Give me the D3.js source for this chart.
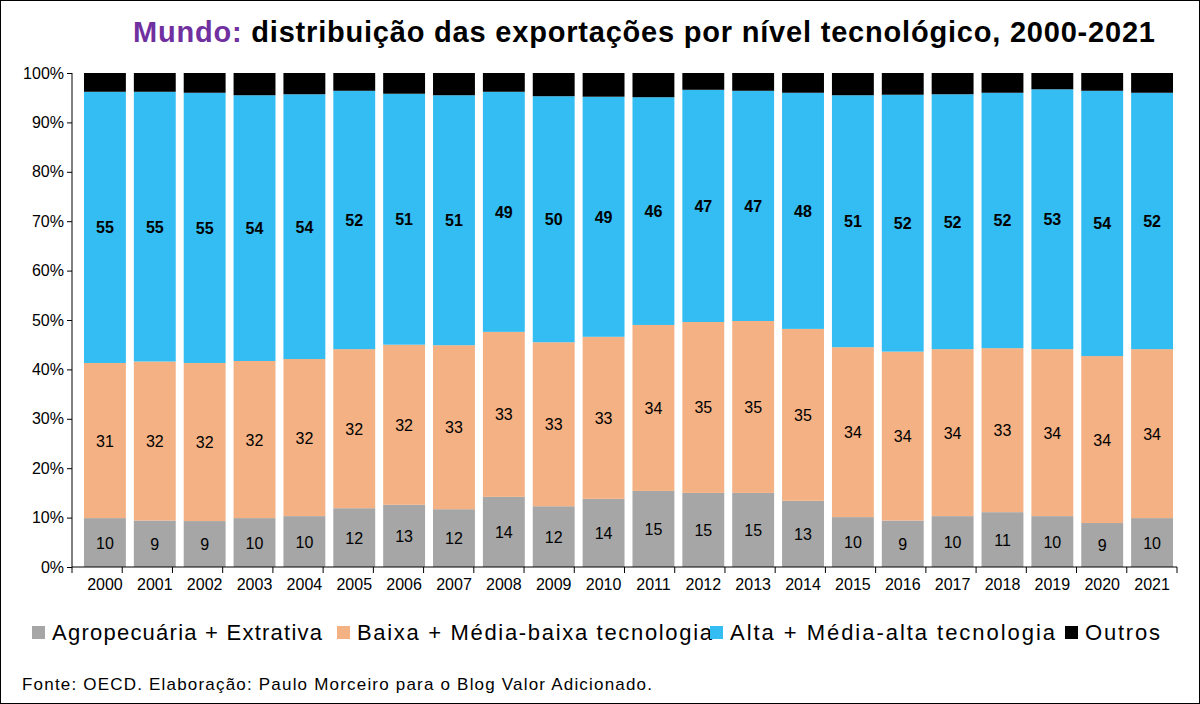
<!DOCTYPE html>
<html><head><meta charset="utf-8">
<script src="https://cdn.jsdelivr.net/npm/d3@7"></script>
<style>body{margin:0;background:#fff}svg{font-family:Arial,"Liberation Sans",sans-serif}</style>
</head><body>
<svg id="chart" width="1200" height="704"></svg>
<script>
var years = ["2000","2001","2002","2003","2004","2005","2006","2007","2008","2009","2010","2011","2012","2013","2014","2015","2016","2017","2018","2019","2020","2021"]
var agro  = [9.9,9.4,9.3,9.9,10.3,11.9,12.6,11.7,14.2,12.3,13.8,15.4,15.0,15.0,13.4,10.1,9.4,10.3,11.1,10.3,8.9,9.9]
var baixa = [31.4,32.2,32.0,31.8,31.8,32.2,32.4,33.2,33.4,33.2,32.8,33.6,34.6,34.8,34.8,34.4,34.2,33.8,33.2,33.8,33.8,34.2]
var alta  = [54.9,54.6,54.7,53.8,53.6,52.3,50.8,50.6,48.6,49.8,48.6,46.1,47.0,46.6,47.8,51.0,52.0,51.6,51.7,52.6,53.7,51.9]
var yTicks = [0,10,20,30,40,50,60,70,80,90,100]
var seriesNames = ["Agropecuária + Extrativa","Baixa + Média-baixa tecnologia","Alta + Média-alta tecnologia","Outros"]
var colors = ["#A6A6A6","#F4B183","#33BDF2","#000000"]

var svg = d3.select("#chart")
svg.append("rect").attr("x",0.5).attr("y",0.5).attr("width",1199).attr("height",703).attr("fill","#fff").attr("stroke","#000")

var title = svg.append("text").attr("x",133).attr("y",42)
  .attr("font-size",29).attr("font-weight","bold")
  .attr("textLength",1022).attr("lengthAdjust","spacing")
title.append("tspan").attr("fill","#7030A0").text("Mundo: ")
title.append("tspan").attr("fill","#000").text("distribuição das exportações por nível tecnológico, 2000-2021")

var data = years.map(function(y,i){
  return {year:y, agro:agro[i], baixa:baixa[i], alta:alta[i], outros:100-agro[i]-baixa[i]-alta[i]}
})
var keys = ["agro","baixa","alta","outros"]
var stack = d3.stack().keys(keys)(data)

var x = d3.scaleBand().domain(years).range([80,1177]).paddingInner(0.16).paddingOuter(0.08)
var y = d3.scaleLinear().domain([0,100]).range([567,73])

var yAxis = svg.append("g").attr("transform","translate(72,0)")
  .call(d3.axisLeft(y).tickValues(yTicks).tickFormat(function(d){return d+"%"}).tickSize(5))
yAxis.selectAll("text").attr("font-size",16).attr("fill","#000")
yAxis.select(".domain").attr("d","M0,73V567")

stack.forEach(function(layer,k){
  svg.append("g").selectAll("rect").data(layer).enter().append("rect")
    .attr("x",function(d){return x(d.data.year)})
    .attr("width",x.bandwidth())
    .attr("y",function(d){return y(d[1])})
    .attr("height",function(d){return y(d[0])-y(d[1])})
    .attr("fill",colors[k])
  if(k<3){
    svg.append("g").selectAll("text").data(layer).enter().append("text")
      .attr("x",function(d){return x(d.data.year)+x.bandwidth()/2})
      .attr("y",function(d){return y((d[0]+d[1])/2)+6})
      .attr("text-anchor","middle").attr("font-size",16)
      .attr("font-weight",k==2?"bold":"normal")
      .text(function(d){return Math.round(d[1]-d[0])})
  }
})

var xAxis = svg.append("g").attr("transform","translate(0,567)")
  .call(d3.axisBottom(x).tickSize(0).tickPadding(12))
xAxis.selectAll("text").attr("font-size",16).attr("fill","#000")
xAxis.select(".domain").attr("d","M72,0H1177")
// year separators
svg.append("g").selectAll("line").data(years.concat(["end"])).enter().append("line")
  .attr("x1",function(d,i){return 72+i*(1105/22)}).attr("x2",function(d,i){return 72+i*(1105/22)})
  .attr("y1",567).attr("y2",573).attr("stroke","#000")

var legendX = [32,337,710,1065]
var legendW = [270,355,325,75]
var legend = svg.append("g").selectAll("g").data(seriesNames).enter().append("g")
  .attr("transform",function(d,i){return "translate("+legendX[i]+",638)"})
legend.append("rect").attr("x",0).attr("y",-12).attr("width",13).attr("height",13).attr("fill",function(d,i){return colors[i]})
legend.append("text").attr("x",20).attr("y",2).attr("font-size",22)
  .attr("textLength",function(d,i){return legendW[i]}).attr("lengthAdjust","spacing")
  .text(function(d){return d})

svg.append("text").attr("x",22).attr("y",690).attr("font-size",17)
  .attr("textLength",630).attr("lengthAdjust","spacing")
  .text("Fonte: OECD. Elaboração: Paulo Morceiro para o Blog Valor Adicionado.")
</script>
</body></html>
